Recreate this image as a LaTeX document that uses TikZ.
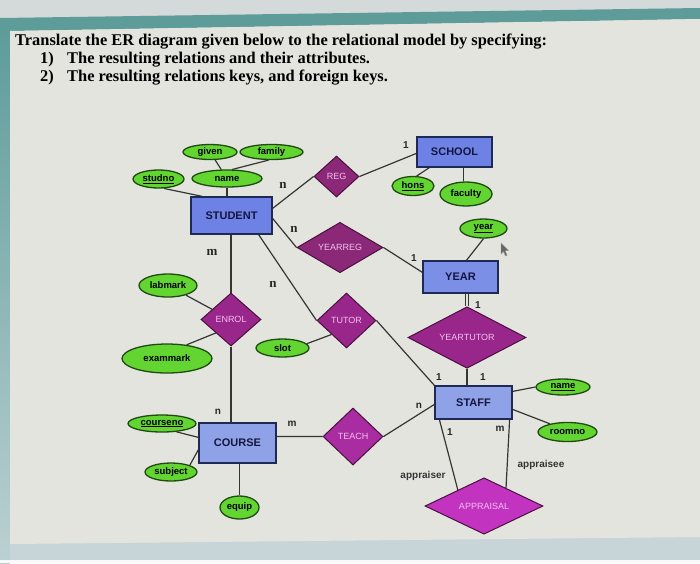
\documentclass[tikz,border=0pt]{standalone}
\usepackage{fontspec}
\setmainfont{Liberation Serif}
\setsansfont{Liberation Sans}
\usetikzlibrary{shapes.geometric,calc}
\pgfdeclarelayer{bglayer}
\pgfdeclarelayer{linklayer}
\pgfsetlayers{bglayer,linklayer,main}
\definecolor{bgtop}{HTML}{D4D9D9}
\definecolor{tealband}{HTML}{5E9C9A}
\definecolor{tealfade}{HTML}{BCD0D2}
\definecolor{content}{HTML}{E4E4DF}
\definecolor{bottomstrip}{HTML}{C8D5D8}
\definecolor{attrfill}{HTML}{62D531}
\definecolor{attrline}{HTML}{1F4A12}
\definecolor{entfill}{HTML}{6D82E4}
\definecolor{entfilllight}{HTML}{8FA2E8}
\definecolor{entline}{HTML}{1E2A55}
\definecolor{enttext}{HTML}{151540}
\definecolor{relfill}{HTML}{99268A}
\definecolor{relfilldark}{HTML}{8C2878}
\definecolor{relfilllight}{HTML}{A92DA0}
\definecolor{relline}{HTML}{4A1040}
\definecolor{reltext}{HTML}{F4C0F0}
\definecolor{apprfill}{HTML}{C234C0}
\definecolor{linkcol}{HTML}{353533}
\begin{document}
\begin{tikzpicture}[x=1pt,y=-1pt,
  attr/.style={ellipse, draw=attrline, line width=1.3pt, fill=attrfill, inner sep=0pt,
    font=\sffamily\bfseries\fontsize{9.5}{10}\selectfont, text=black},
  ent/.style={rectangle, draw=entline, line width=1.2pt, fill=entfill, inner sep=0pt,
    font=\sffamily\bfseries\fontsize{11}{12}\selectfont, text=enttext},
  rel/.style={diamond, draw=relline, line width=1pt, fill=relfill, inner sep=0pt,
    font=\sffamily\fontsize{9}{10}\selectfont, text=reltext},
  link/.style={draw=linkcol, line width=1.2pt},
  card/.style={font=\sffamily\bfseries\fontsize{10}{11}\selectfont, text=black!85, inner sep=0pt},
  bigcard/.style={font=\rmfamily\bfseries\fontsize{13}{14}\selectfont, text=black!85, inner sep=0pt},
  role/.style={font=\sffamily\bfseries\fontsize{10}{11}\selectfont, text=black!80, inner sep=0pt},
  titletext/.style={font=\bfseries\fontsize{16.4}{18}\selectfont, inner sep=0pt, anchor=west}
]
\useasboundingbox (0,0) rectangle (700,563);
% background (photo of a screen)
\begin{pgfonlayer}{bglayer}
\fill[bgtop] (0,0) rectangle (700,563);
\fill[tealband] (0,18) -- (700,8) -- (700,19) -- (10,31) -- (0,31) -- cycle;
\shade[top color=tealband, bottom color=tealfade] (0,30) rectangle (10,563);
\fill[bottomstrip] (10,540) -- (700,535) -- (700,560) -- (10,560) -- cycle;
\fill[white!95!gray] (0,560) rectangle (700,563);
\fill[content] (10,31) -- (700,19) -- (700,537) -- (10,544) -- cycle;
\end{pgfonlayer}

% title
\node[titletext] (t1) at (15,42) {Translate the ER diagram given below to the relational model by specifying:};
\node[titletext] (t2n) at (40,60) {1)};
\node[titletext] (t2) at (67,60) {The resulting relations and their attributes.};
\node[titletext] (t3n) at (40,78) {2)};
\node[titletext] (t3) at (67,78) {The resulting relations keys, and foreign keys.};

% entities
\node[ent, minimum width=81pt, minimum height=37pt] (student) at (231.5,215.5) {STUDENT};
\node[ent, minimum width=75pt, minimum height=30pt] (school) at (454.5,152) {SCHOOL};
\node[ent, fill=entfill!60!entfilllight, minimum width=75pt, minimum height=32pt] (year) at (460.5,277) {YEAR};
\node[ent, fill=entfilllight, minimum width=77pt, minimum height=33pt] (staff) at (473.5,402.5) {STAFF};
\node[ent, fill=entfilllight, minimum width=77pt, minimum height=40pt] (course) at (237.5,443) {COURSE};

% relationships
\node[rel, fill=relfilldark, minimum width=45pt, minimum height=41pt] (reg) at (336.5,176.5) {REG};
\node[rel, fill=relfilldark, minimum width=86pt, minimum height=39pt] (yearreg) at (340,247.5) {YEARREG};
\node[rel, minimum width=60pt, minimum height=53pt] (enrol) at (231,319.5) {ENROL};
\node[rel, minimum width=59pt, minimum height=55pt] (tutor) at (346.5,320.5) {TUTOR};
\node[rel, minimum width=118pt, minimum height=39pt] (yeartutor) at (467,337.5) {YEARTUTOR};
\node[rel, fill=relfilllight, minimum width=60pt, minimum height=57pt] (teach) at (353,436.5) {TEACH};
\node[rel, fill=apprfill, minimum width=118pt, minimum height=42pt] (appraisal) at (484,506) {APPRAISAL};

% attributes
\node[attr, minimum width=54pt, minimum height=15pt] (given) at (210,152) {given};
\node[attr, minimum width=63pt, minimum height=15pt] (family) at (271.5,152) {family};
\node[attr, minimum width=51pt, minimum height=18pt] (studno) at (158.5,179) {\underline{studno}};
\node[attr, minimum width=70pt, minimum height=17pt] (sname) at (227,178.5) {name};
\node[attr, minimum width=42pt, minimum height=19pt] (hons) at (413,186) {\underline{hons}};
\node[attr, minimum width=52pt, minimum height=24pt] (faculty) at (466,194) {faculty};
\node[attr, minimum width=47pt, minimum height=19pt] (yattr) at (483.5,228.5) {\underline{year}};
\node[attr, minimum width=58pt, minimum height=23pt] (labmark) at (168,285.5) {labmark};
\node[attr, minimum width=90pt, minimum height=29pt] (exammark) at (167,358.5) {exammark};
\node[attr, minimum width=53pt, minimum height=18pt] (slot) at (282.5,348) {slot};
\node[attr, minimum width=54pt, minimum height=16pt] (stname) at (563,387) {\underline{name}};
\node[attr, minimum width=59pt, minimum height=19pt] (roomno) at (567.5,432) {roomno};
\node[attr, minimum width=68pt, minimum height=17pt] (courseno) at (162,423.5) {\underline{courseno}};
\node[attr, minimum width=52pt, minimum height=18pt] (subject) at (171,472) {subject};
\node[attr, minimum width=39pt, minimum height=23pt] (equip) at (239.5,507.5) {equip};

% connectors
\begin{pgfonlayer}{linklayer}
\draw[link] (given) -- (sname);
\draw[link] (family.250) -- (sname.60);
\draw[link] (studno.-60) -- ($(student.north west)+(12,0)$);
\draw[link] (sname.south) -- (sname.south |- student.north);
\draw[link] ($(student.north east)+(0,12)$) -- (reg.west);
\draw[link] (reg.east) -- ($(school.north west)+(0,17)$);
\draw[link] (hons.70) -- ($(school.south west)+(13,0)$);
\draw[link] (faculty.100) -- (faculty.100 |- school.south);
\draw[link] ($(student.north east)+(0,22)$) -- (yearreg.west);
\draw[link] (yearreg.east) -- ($(year.north west)+(0,12)$);
\draw[link] (yattr.south) -- ($(year.north west)+(44,0)$);
\draw[link, double=content, double distance=2.5pt, line width=1pt] (yeartutor.north |- year.south) -- (yeartutor.north);
\draw[link] (enrol.north |- student.south) -- (enrol.north);
\draw[link] ($(student.south east)+(-14,0)$) -- (tutor.west);
\draw[link] (labmark) -- (enrol);
\draw[link] (exammark.35) -- ($(enrol.west)!0.5!(enrol.south)$);
\draw[link] (slot.10) -- ($(tutor.west)!0.5!(tutor.south)$);
\draw[link] (enrol.south) -- (enrol.south |- course.north);
\draw[link] (tutor.east) -- (staff.north west);
\draw[link] (yeartutor.south) -- (yeartutor.south |- staff.north);
\draw[link] ($(staff.north east)+(0,6)$) -- (stname.west);
\draw[link] ($(staff.north east)+(0,24)$) -- (roomno.155);
\draw[link] (teach.east) -- ($(staff.north west)+(0,19)$);
\draw[link] ($(course.north east)+(0,14)$) -- (teach.west);
\draw[link] (courseno.-30) -- ($(course.north west)+(0,15)$);
\draw[link] (subject.north east) -- ($(course.south west)+(0,-14)$);
\draw[link] (equip.north |- course.south) -- (equip.north);
\draw[link] ($(staff.south west)+(5,0)$) -- ($(appraisal.west)!0.56!(appraisal.north)$);
\draw[link] ($(staff.south east)+(-3,0)$) -- ($(appraisal.north)!0.37!(appraisal.east)$);
\end{pgfonlayer}

% cardinalities and roles
\node[bigcard] (c1) at (283,185) {n};
\node[bigcard] (c2) at (294,229) {n};
\node[bigcard] (c3) at (212,252) {m};
\node[bigcard] (c4) at (273,284) {n};
\node[card] (c5) at (406,145) {1};
\node[card] (c6) at (414,258) {1};
\node[card] (c7) at (478,305) {1};
\node[card] (c8) at (439,377) {1};
\node[card] (c9) at (483,377) {1};
\node[card] (c10) at (419,406) {n};
\node[card] (c11) at (218,412) {n};
\node[card] (c12) at (292,424) {m};
\node[card] (c13) at (450,432) {1};
\node[card] (c14) at (500,429) {m};
\node[role] (r1) at (423,476) {appraiser};
\node[role] (r2) at (541,465) {appraisee};

% mouse pointer
\filldraw[fill=black!60, draw=black!40, line width=0.4pt] (501,243) -- (501,254) -- (503.5,251.5) -- (505.5,256) -- (507,255.3) -- (505.2,250.8) -- (508.5,250.5) -- cycle;
\end{tikzpicture}
\end{document}
